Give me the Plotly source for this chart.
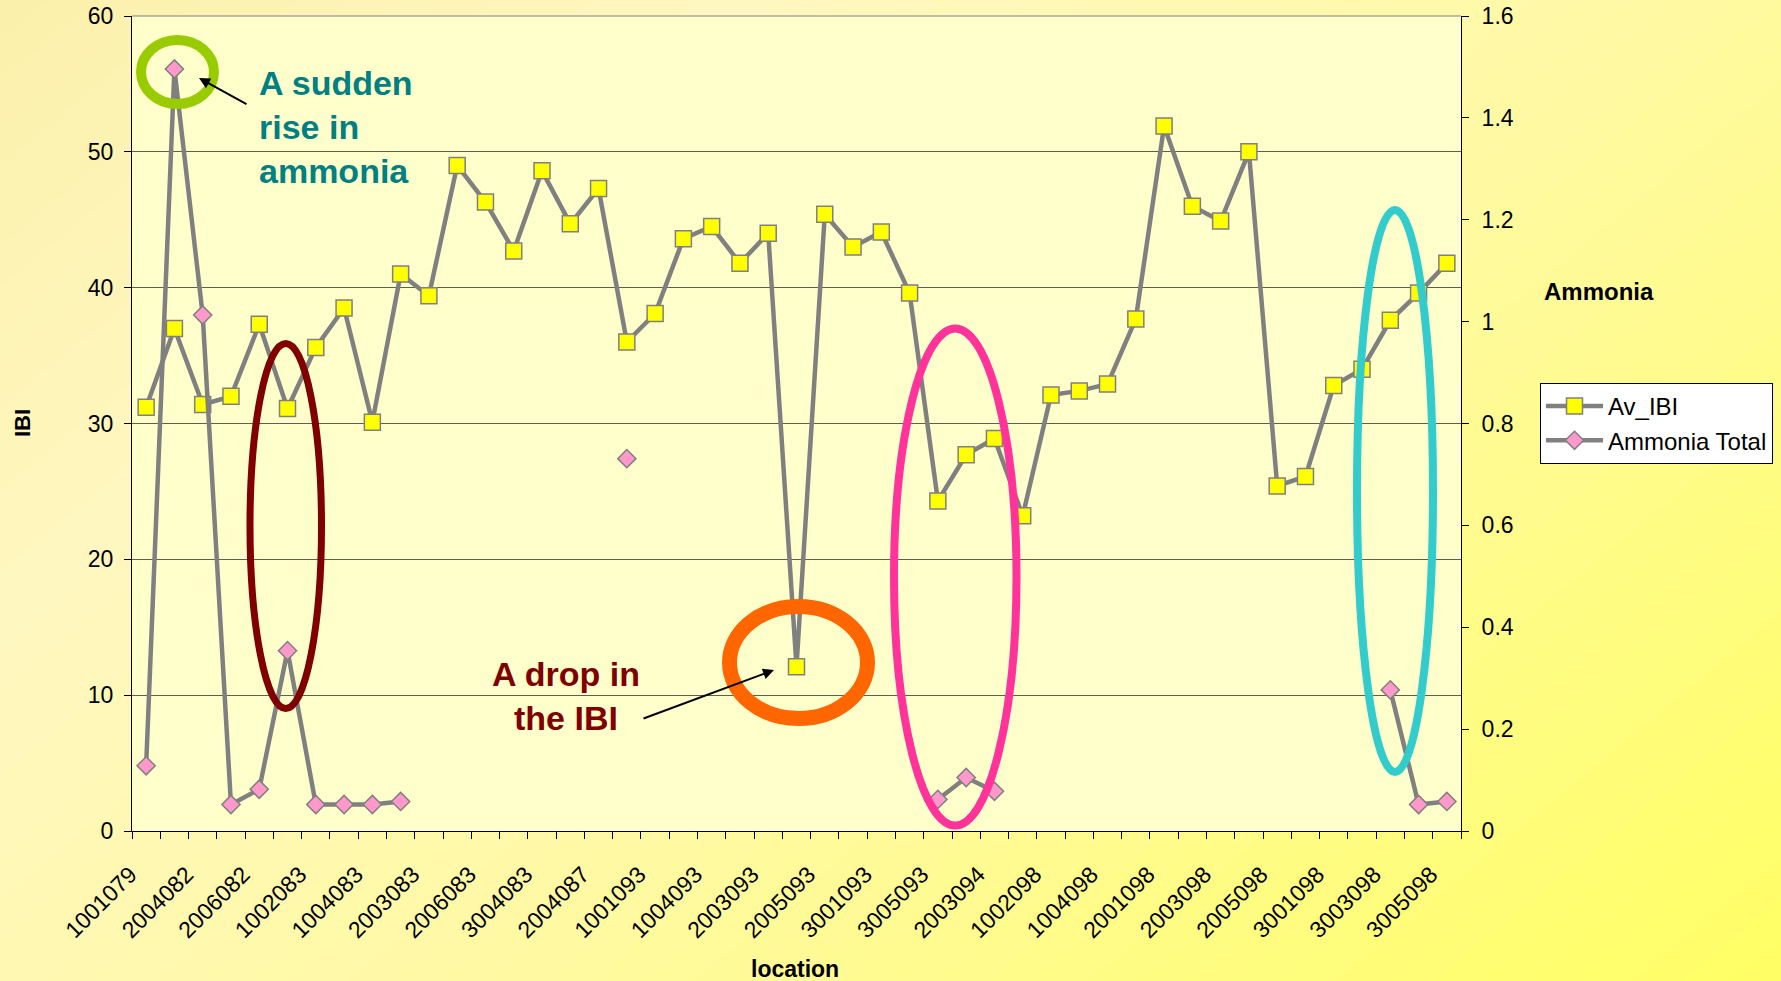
import plotly.graph_objects as go

# ---------------- data ----------------
site_index = list(range(47))          # 47 sampling sites along the x axis
tick_positions = site_index[::2]      # only every other site is labelled
tick_labels = ["1001079", "2004082", "2006082", "1002083", "1004083", "2003083",
               "2006083", "3004083", "2004087", "1001093", "1004093", "2003093",
               "2005093", "3001093", "3005093", "2003094", "1002098", "1004098",
               "2001098", "2003098", "2005098", "3001098", "3003098", "3005098"]

av_ibi = [31.2, 37.0, 31.4, 32.0, 37.3, 31.1, 35.6, 38.5, 30.1, 41.0,
          39.4, 49.0, 46.3, 42.7, 48.6, 44.7, 47.3, 36.0, 38.1, 43.6,
          44.5, 41.8, 44.0, 12.1, 45.4, 43.0, 44.1, 39.6, 24.3, 27.7,
          28.9, 23.2, 32.1, 32.4, 32.9, 37.7, 51.9, 46.0, 44.9, 50.0,
          25.4, 26.1, 32.8, 34.0, 37.6, 39.6, 41.8]

ammonia_total = [0.128, 1.496, 1.013, 0.052, 0.082, 0.354, 0.052, 0.052, 0.052, 0.058,
                 None, None, None, None, None, None, None, 0.731, None, None,
                 None, None, None, None, None, None, None, None, 0.062, 0.105,
                 0.078, None, None, None, None, None, None, None, None, None,
                 None, None, None, None, 0.277, 0.052, 0.058]

# ---------------- layout geometry ----------------
FIG_W, FIG_H = 1781, 981
PLOT_L, PLOT_R, PLOT_T, PLOT_B = 132, 1461, 16, 831
FONT = "Arial, Liberation Sans, sans-serif"


def to_paper(px, py):
    return (px - PLOT_L) / (PLOT_R - PLOT_L), (PLOT_B - py) / (PLOT_B - PLOT_T)


def grad_color(s):
    stops = [(0.0, (251, 240, 170)), (0.25, (255, 247, 192)),
             (0.55, (255, 249, 165)), (1.0, (255, 255, 100))]
    s = max(0.0, min(1.0, s))
    for (a, ca), (b, cb) in zip(stops[:-1], stops[1:]):
        if a <= s <= b:
            t = (s - a) / (b - a)
            c = [round(ca[i] + (cb[i] - ca[i]) * t) for i in range(3)]
            return "rgb(%d,%d,%d)" % tuple(c)
    return "rgb(255,255,100)"


shapes = []
# diagonal background gradient of the page
WX, WY = 0.6, 0.4
N_BANDS = 66
Y_TOP, Y_BOT = -60, FIG_H + 60


def x_at(s, y):
    return (s - WY * y / FIG_H) * FIG_W / WX


for k in range(N_BANDS):
    s0 = -0.05 + 1.1 * k / N_BANDS
    s1 = -0.05 + 1.1 * (k + 1) / N_BANDS + 0.003
    pts = [(x_at(s0, Y_TOP), Y_TOP), (x_at(s1, Y_TOP), Y_TOP),
           (x_at(s1, Y_BOT), Y_BOT), (x_at(s0, Y_BOT), Y_BOT)]
    pp = [to_paper(x, y) for x, y in pts]
    path = "M %.5f,%.5f L %.5f,%.5f L %.5f,%.5f L %.5f,%.5f Z" % tuple(v for p in pp for v in p)
    shapes.append(dict(type="path", path=path, xref="paper", yref="paper",
                       fillcolor=grad_color((s0 + s1) / 2), line=dict(width=0), layer="below"))

# plot area fill
shapes.append(dict(type="rect", xref="paper", yref="paper", x0=0, x1=1, y0=0, y1=1,
                   fillcolor="#FFFFCC", line=dict(width=0), layer="below"))
# grey top border of plot area
shapes.append(dict(type="line", xref="paper", yref="paper", x0=0, x1=1, y0=1, y1=1,
                   line=dict(color="#808080", width=1), layer="below"))


def ellipse(x0, y0, x1, y1, color, width):
    (a, b), (c, d) = to_paper(x0, y1), to_paper(x1, y0)
    return dict(type="circle", xref="paper", yref="paper", x0=a, y0=b, x1=c, y1=d,
                line=dict(color=color, width=width), fillcolor="rgba(0,0,0,0)", layer="above")


shapes += [
    ellipse(141, 40, 214, 104, "#99CC00", 10),
    ellipse(250, 343.5, 321.5, 708.5, "#800000", 7),
    ellipse(729.5, 606.5, 867.5, 718.5, "#FF6600", 15),
    ellipse(894, 328.5, 1016.5, 825.5, "#FF3399", 8),
    ellipse(1357, 210, 1433, 772, "#33CCCC", 8),
]

fig = go.Figure()
fig.add_trace(go.Scatter(
    x=site_index, y=av_ibi, name="Av_IBI", mode="lines+markers",
    line=dict(color="#808080", width=4.5),
    marker=dict(symbol="square", size=16, color="#FFFF00",
                line=dict(color="#808080", width=1.5))))
fig.add_trace(go.Scatter(
    x=site_index, y=ammonia_total, name="Ammonia Total", mode="lines+markers",
    yaxis="y2", connectgaps=False,
    line=dict(color="#808080", width=4.5),
    marker=dict(symbol="diamond", size=14, color="#FF99CC",
                line=dict(color="#808080", width=1.5))))

annotations = []


def text_ann(px, py, text, size, color="black", xanchor="center", align="center", angle=0):
    x, y = to_paper(px, py)
    annotations.append(dict(x=x, y=y, xref="paper", yref="paper", text=text, showarrow=False,
                            xanchor=xanchor, yanchor="middle", align=align, textangle=angle,
                            font=dict(family=FONT, size=size, color=color)))


def arrow_ann(tx, ty, hx, hy):
    x, y = to_paper(hx, hy)
    annotations.append(dict(x=x, y=y, xref="paper", yref="paper", text="", showarrow=True,
                            ax=tx - hx, ay=ty - hy, arrowhead=2, arrowsize=1.1, arrowwidth=2,
                            arrowcolor="black", standoff=0, startstandoff=0))


text_ann(22, 423, "<b>IBI</b>", 22, angle=-90)
text_ann(795, 969, "<b>location</b>", 23)
text_ann(1542, 291, "<b>Ammonia</b>", 24, xanchor="left")
text_ann(257, 127, "<b>A sudden<br>rise in<br>ammonia</b>", 34, color="#008080",
         xanchor="left", align="left")
text_ann(566, 696, "<b>A drop in<br>the IBI</b>", 34, color="#800000")
arrow_ann(248, 105, 199, 78)
arrow_ann(642, 719, 774, 670)

lx, ly = to_paper(1540, 383)

fig.update_layout(
    width=FIG_W, height=FIG_H,
    margin=dict(l=PLOT_L, r=FIG_W - PLOT_R, t=PLOT_T, b=FIG_H - PLOT_B, autoexpand=False),
    paper_bgcolor="#FFF8C0", plot_bgcolor="#FFFFCC",
    font=dict(family=FONT, size=23, color="black"),
    showlegend=True,
    legend=dict(x=lx, y=ly, xanchor="left", yanchor="top", bgcolor="white",
                bordercolor="black", borderwidth=1, font=dict(family=FONT, size=24, color="black"),
                tracegroupgap=0, itemwidth=57, entrywidth=300, entrywidthmode="pixels"),
    shapes=shapes, annotations=annotations,
    xaxis=dict(range=[-0.5, 46.5], tickmode="array", tickvals=tick_positions, ticktext=tick_labels,
               tickangle=-45, ticks="", showgrid=False, zeroline=False, showline=True,
               linecolor="black", linewidth=1, tickfont=dict(size=23, color="black"),
               ticklabelshift=-16, ticklabelstandoff=20,
               minor=dict(tickmode="array", tickvals=[i - 0.5 for i in site_index] + [46.5],
                          ticks="outside", ticklen=7, tickwidth=1, tickcolor="black", showgrid=False)),
    yaxis=dict(range=[0, 60], tick0=0, dtick=10, showgrid=True, gridcolor="#5f5f50", gridwidth=1,
               zeroline=False, showline=True, linecolor="black", linewidth=1,
               ticks="outside", ticklen=7, tickcolor="black", tickfont=dict(size=23, color="black"),
               ticklabelstandoff=6),
    yaxis2=dict(range=[0, 1.6], tick0=0, dtick=0.2, overlaying="y", side="right", showgrid=False,
                zeroline=False, showline=True, linecolor="black", linewidth=1,
                ticks="outside", ticklen=7, tickcolor="black", tickfont=dict(size=23, color="black"),
                ticklabelstandoff=8),
)

fig.write_html("out.html", config={"displayModeBar": False},
               post_script="document.body.style.margin='0';document.body.style.overflow='hidden';")
